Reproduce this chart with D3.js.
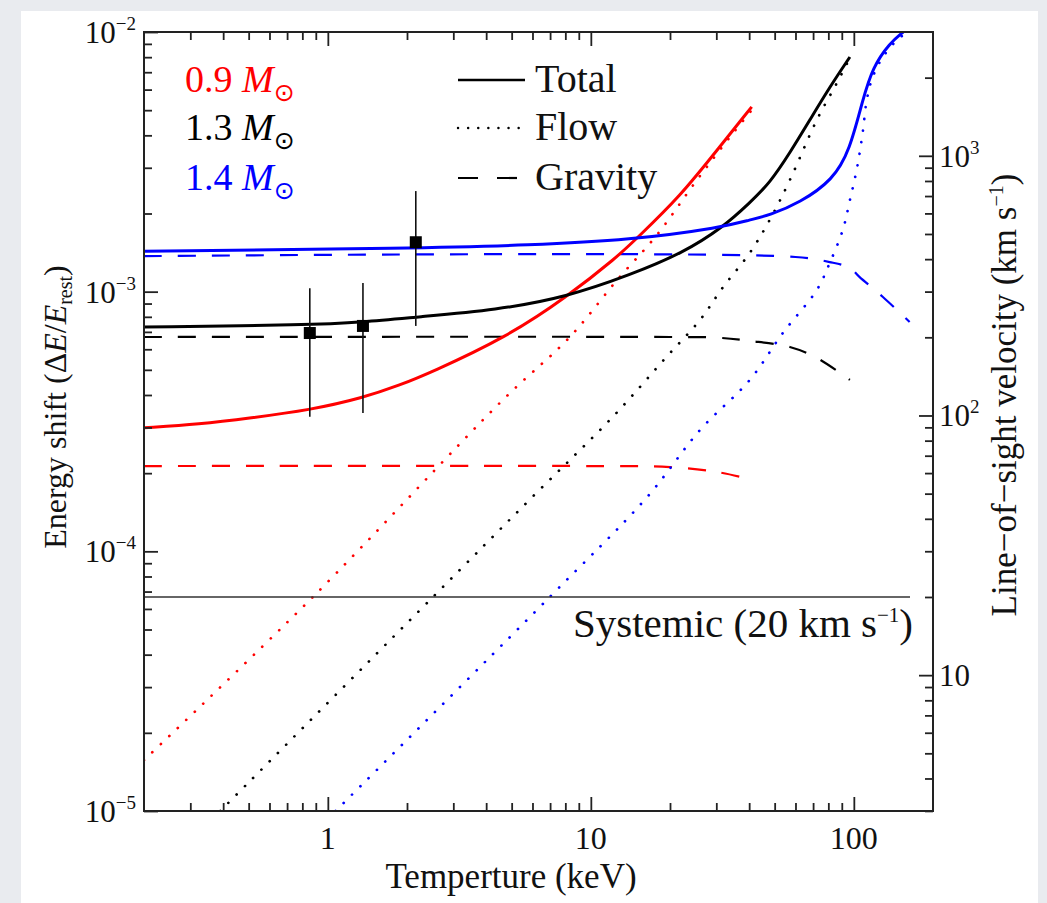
<!DOCTYPE html>
<html><head><meta charset="utf-8">
<script src="https://cdn.jsdelivr.net/npm/d3@7"></script>
<style>
body{margin:0;background:#e9ebef;}
svg{display:block;}
text{font-family:"Liberation Serif","Times New Roman",serif;}
</style>
</head><body>
<svg id="c" width="1047" height="903"></svg>
<script>
// ---------------- data ----------------
const massLabels = ["0.9", "1.3", "1.4"];
const massColors = ["#ff0000", "#000000", "#0000ff"];

// 0.9 Msun
const redTotalT = [0.2, 0.326, 0.505, 0.854, 1.36, 1.88, 2.44, 4.79, 8.10, 12.6, 15.0, 21.8, 30.9, 40.9];
const redTotalV = [2.99e-4, 3.09e-4, 3.26e-4, 3.50e-4, 3.90e-4, 4.37e-4, 4.86e-4, 6.69e-4, 9.54e-4, 1.36e-3, 1.61e-3, 2.32e-3, 3.61e-3, 5.15e-3];
const redFlowT = [0.2, 0.877, 4.63, 8.32, 12.6, 17.8, 25.3, 33.8, 40.9];
const redFlowV = [1.57e-5, 6.67e-5, 3.83e-4, 6.69e-4, 1.11e-3, 1.65e-3, 2.69e-3, 3.94e-3, 5.0e-3];
const redGravT = [0.2, 10, 20, 30.2, 40.9];
const redGravV = [2.13e-4, 2.13e-4, 2.11e-4, 2.02e-4, 1.89e-4];

// 1.3 Msun
const blackTotalT = [0.2, 0.854, 1.36, 2.18, 4.39, 8.10, 14.1, 22.4, 31.8, 40.2, 47.9, 57.1, 68.0, 81.0, 96.6];
const blackTotalV = [7.31e-4, 7.44e-4, 7.64e-4, 7.99e-4, 8.5e-4, 9.54e-4, 1.16e-3, 1.41e-3, 1.77e-3, 2.2e-3, 2.62e-3, 3.42e-3, 4.58e-3, 6.14e-3, 8.01e-3];
const blackFlowT = [0.39, 2.51, 5.96, 12.1, 19.4, 26.0, 31.8, 40.2, 47.9, 57.1, 72.3, 86.2, 96.6];
const blackFlowV = [1e-5, 6.67e-5, 1.61e-4, 3.29e-4, 5.61e-4, 7.78e-4, 1.04e-3, 1.41e-3, 1.89e-3, 2.69e-3, 4.58e-3, 6.36e-3, 7.94e-3];
const blackGravT = [0.2, 20, 30.2, 40.2, 57.1, 72.3, 96.6];
const blackGravV = [6.69e-4, 6.69e-4, 6.65e-4, 6.46e-4, 6.12e-4, 5.56e-4, 4.57e-4];

// 1.4 Msun
const blueTotalT = [0.2, 2.18, 5.86, 14.1, 31.8, 40.2, 47.9, 62.3, 83.2, 96.6, 108, 118, 137, 154];
const blueTotalV = [1.43e-3, 1.47e-3, 1.51e-3, 1.58e-3, 1.77e-3, 1.89e-3, 1.97e-3, 2.2e-3, 2.69e-3, 3.51e-3, 5.47e-3, 7.33e-3, 9.07e-3, 1e-2];
const blueFlowT = [1.07, 6.98, 16.3, 26.0, 40.2, 53.7, 72.3, 81.0, 90.8, 96.6, 103, 108, 112, 118, 129, 146, 160];
const blueFlowV = [1e-5, 6.67e-5, 1.61e-4, 2.93e-4, 4.57e-4, 6.93e-4, 1.015e-3, 1.29e-3, 1.73e-3, 2.25e-3, 3.02e-3, 4.08e-3, 5.47e-3, 6.71e-3, 8.01e-3, 9.31e-3, 1e-2];
const blueGravT = [0.2, 60, 81.0, 96.6, 105, 129, 163];
const blueGravV = [1.37e-3, 1.36e-3, 1.30e-3, 1.234e-3, 1.14e-3, 9.54e-4, 7.64e-4];

// observed points
const obsT = [0.854, 1.36, 2.16];
const obsV = [6.93e-4, 7.38e-4, 1.55e-3];
const obsLo = [3.30e-4, 3.41e-4, 7.38e-4];
const obsHi = [1.03e-3, 1.08e-3, 2.44e-3];

// systemic velocity (km/s) and speed of light
const systemicVel = 20;
const cLight = 299792.458;

// axes
const xDomain = [0.2, 200];
const yDomain = [1e-5, 1e-2];
const xMajor = [1, 10, 100];
const xMajorLabels = ["1", "10", "100"];
const yMajor = [1e-5, 1e-4, 1e-3, 1e-2];
const yMajorExp = ["\u22125", "\u22124", "\u22123", "\u22122"];
const vMajor = [10, 100, 1000];
const vMajorExp = ["", "2", "3"];
const legendLabels = ["Total", "Flow", "Gravity"];

// ---------------- drawing ----------------
const FONT = "Liberation Serif, Times New Roman, serif";
const svg = d3.select("#c");
const W = 1047, H = 903;
const L = 144, R = 933, T = 32, B = 811;

svg.append("rect").attr("width", W).attr("height", H).attr("fill", "#e9ebef");
svg.append("rect").attr("x", 21).attr("y", 11).attr("width", 1017).attr("height", H - 11).attr("fill", "#ffffff");

const x = d3.scaleLog().domain(xDomain).range([L, R]);
const y = d3.scaleLog().domain(yDomain).range([B, T]);
const yV = d3.scaleLog().domain([yDomain[0] * cLight, yDomain[1] * cLight]).range([B, T]);

function minors(lo, hi) {
  const out = [];
  for (let e = Math.floor(Math.log10(lo)); e <= Math.ceil(Math.log10(hi)); e++) {
    for (let m = 2; m <= 9; m++) {
      const v = m * Math.pow(10, e);
      if (v > lo * 1.0001 && v < hi * 0.9999) out.push(v);
    }
  }
  return out;
}

svg.append("clipPath").attr("id", "clip").append("rect")
  .attr("x", L).attr("y", T).attr("width", R - L).attr("height", B - T);

const plot = svg.append("g").attr("clip-path", "url(#clip)");
const line = d3.line().x(d => x(d[0])).y(d => y(d[1])).curve(d3.curveCatmullRom.alpha(0.5));
const smooth = d3.line().x(d => x(d[0])).y(d => y(d[1])).curve(d3.curveBasis);
const zip = (a, b) => a.map((t, i) => [t, b[i]]);

const series = [
  { color: massColors[0], total: zip(redTotalT, redTotalV), flow: zip(redFlowT, redFlowV), grav: zip(redGravT, redGravV) },
  { color: massColors[1], total: zip(blackTotalT, blackTotalV), flow: zip(blackFlowT, blackFlowV), grav: zip(blackGravT, blackGravV) },
  { color: massColors[2], total: zip(blueTotalT, blueTotalV), flow: zip(blueFlowT, blueFlowV), grav: zip(blueGravT, blueGravV) }
];

const DASH = "18 16", DOT = "0.1 11.6";

// systemic line
const sysE = systemicVel / cLight;
svg.append("line").attr("x1", L).attr("x2", 910).attr("y1", y(sysE)).attr("y2", y(sysE))
  .attr("stroke", "#333").attr("stroke-width", 1.6);

series.forEach(s => {
  plot.append("path").attr("d", line(s.grav)).attr("fill", "none").attr("stroke", s.color)
    .attr("stroke-width", 2.2).attr("stroke-dasharray", DASH);
  plot.append("path").attr("d", line(s.flow)).attr("fill", "none").attr("stroke", s.color)
    .attr("stroke-width", 2.7).attr("stroke-linecap", "round").attr("stroke-dasharray", DOT);
});
series.forEach(s => {
  plot.append("path").attr("d", smooth(s.total)).attr("fill", "none").attr("stroke", s.color)
    .attr("stroke-width", 3);
});

// observations
const obs = obsT.map((t, i) => ({ t, v: obsV[i], lo: obsLo[i], hi: obsHi[i] }));
const og = svg.append("g");
og.selectAll("line").data(obs).join("line")
  .attr("x1", d => x(d.t)).attr("x2", d => x(d.t)).attr("y1", d => y(d.lo)).attr("y2", d => y(d.hi))
  .attr("stroke", "#111").attr("stroke-width", 1.6);
og.selectAll("rect").data(obs).join("rect")
  .attr("x", d => x(d.t) - 6).attr("y", d => y(d.v) - 6).attr("width", 12).attr("height", 12).attr("fill", "#000");

// axes (ticks through d3 axis generators; labels added as text)
const axCol = "#222";
function styleAxis(g) {
  g.select(".domain").remove();
  g.selectAll(".tick line").attr("stroke", axCol).attr("stroke-width", 1.8);
  g.selectAll(".tick text").remove();
}
function addAxis(gen, tr) {
  svg.append("g").attr("transform", tr).call(gen).call(styleAxis);
}
const xMin = minors(xDomain[0], xDomain[1]);
addAxis(d3.axisBottom(x).tickValues(xMajor).tickSize(-14).tickSizeOuter(0), `translate(0,${B})`);
addAxis(d3.axisBottom(x).tickValues(xMin).tickSize(-8).tickSizeOuter(0), `translate(0,${B})`);
addAxis(d3.axisTop(x).tickValues(xMajor).tickSize(-14).tickSizeOuter(0), `translate(0,${T})`);
addAxis(d3.axisTop(x).tickValues(xMin).tickSize(-8).tickSizeOuter(0), `translate(0,${T})`);
addAxis(d3.axisLeft(y).tickValues(yMajor).tickSize(-14).tickSizeOuter(0), `translate(${L},0)`);
addAxis(d3.axisLeft(y).tickValues(minors(yDomain[0], yDomain[1])).tickSize(-8).tickSizeOuter(0), `translate(${L},0)`);
addAxis(d3.axisRight(yV).tickValues(vMajor).tickSize(-14).tickSizeOuter(0), `translate(${R},0)`);
addAxis(d3.axisRight(yV).tickValues(minors(yV.domain()[0], yV.domain()[1])).tickSize(-8).tickSizeOuter(0), `translate(${R},0)`);

// tick labels
svg.append("g").selectAll("text").data(xMajor).join("text")
  .attr("x", d => x(d)).attr("y", 849).attr("text-anchor", "middle")
  .attr("font-family", FONT).attr("font-size", 32).attr("fill", "#111")
  .text((d, i) => xMajorLabels[i]);

svg.append("g").selectAll("text").data(yMajor).join("text")
  .attr("x", 136).attr("y", d => y(d) + 11).attr("text-anchor", "end")
  .attr("font-family", FONT).attr("font-size", 31).attr("fill", "#111")
  .each(function (d, i) {
    const t = d3.select(this);
    t.append("tspan").text("10");
    t.append("tspan").attr("dy", -13).attr("font-size", 19).text(yMajorExp[i]);
  });

svg.append("g").selectAll("text").data(vMajor).join("text")
  .attr("x", 939).attr("y", d => yV(d) + 11).attr("text-anchor", "start")
  .attr("font-family", FONT).attr("font-size", 31).attr("fill", "#111")
  .each(function (d, i) {
    const t = d3.select(this);
    t.append("tspan").text("10");
    if (vMajorExp[i]) t.append("tspan").attr("dy", -13).attr("font-size", 19).text(vMajorExp[i]);
  });

// frame
svg.append("rect").attr("x", L).attr("y", T).attr("width", R - L).attr("height", B - T)
  .attr("fill", "none").attr("stroke", axCol).attr("stroke-width", 2);

// systemic label
const sl = svg.append("text").attr("x", 913).attr("y", 637).attr("text-anchor", "end")
  .attr("font-family", FONT).attr("font-size", 41).attr("fill", "#111");
sl.append("tspan").text(`Systemic (${systemicVel} km s`);
sl.append("tspan").attr("dy", -15).attr("font-size", 21).text("\u22121");
sl.append("tspan").attr("dy", 15).text(")");

// axis titles
svg.append("text").attr("x", 511).attr("y", 888).attr("text-anchor", "middle")
  .attr("font-family", FONT).attr("font-size", 35).attr("fill", "#111").text("Temperture (keV)");

const yt = svg.append("text").attr("transform", "translate(66,407) rotate(-90)").attr("text-anchor", "middle")
  .attr("font-family", FONT).attr("font-size", 32).attr("fill", "#111");
yt.append("tspan").text("Energy shift (\u0394");
yt.append("tspan").attr("font-style", "italic").text("E");
yt.append("tspan").text("/");
yt.append("tspan").attr("font-style", "italic").text("E");
yt.append("tspan").attr("dy", 6).attr("font-size", 20).text("rest");
yt.append("tspan").attr("dy", -6).text(")");

const rt = svg.append("text").attr("transform", "translate(1016,395) rotate(-90)").attr("text-anchor", "middle")
  .attr("font-family", FONT).attr("font-size", 35).attr("fill", "#111");
rt.append("tspan").text("Line\u2212of\u2212sight velocity (km s");
rt.append("tspan").attr("dy", -13).attr("font-size", 20).text("\u22121");
rt.append("tspan").attr("dy", 13).text(")");

// mass labels
const baselines = [92, 140, 190];
massLabels.forEach((m, i) => {
  const t = svg.append("text").attr("x", 185).attr("y", baselines[i])
    .attr("font-family", FONT).attr("font-size", 38).attr("fill", massColors[i]);
  t.append("tspan").text(m + " ");
  t.append("tspan").attr("font-style", "italic").text("M");
  t.append("tspan").attr("dy", 9).attr("font-size", 25).attr("font-family", "DejaVu Sans").text("\u2299");
});

// style legend
const legStyles = [
  { dash: null, w: 2.6 },
  { dash: "0.1 10", w: 2.4, cap: "round" },
  { dash: "20 19", w: 2.2 }
];
legendLabels.forEach((lab, i) => {
  const yy = baselines[i] - 12;
  const ln = svg.append("line").attr("x1", 458).attr("x2", i === 1 ? 520 : 525).attr("y1", yy).attr("y2", yy)
    .attr("stroke", "#000").attr("stroke-width", legStyles[i].w);
  if (legStyles[i].dash) ln.attr("stroke-dasharray", legStyles[i].dash);
  if (legStyles[i].cap) ln.attr("stroke-linecap", legStyles[i].cap);
  svg.append("text").attr("x", 535).attr("y", baselines[i]).attr("font-family", FONT)
    .attr("font-size", 40).attr("fill", "#111").text(lab);
});
</script>
</body></html>
